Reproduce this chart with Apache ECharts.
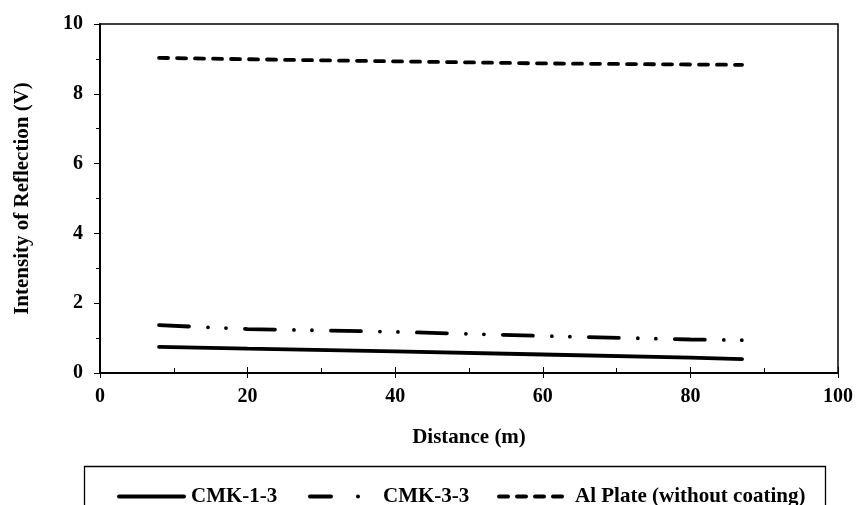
<!DOCTYPE html>
<html>
<head>
<meta charset="utf-8">
<script src="https://cdn.jsdelivr.net/npm/echarts@6/dist/echarts.min.js"></script>
<style>html,body{margin:0;padding:0;background:#fff}#c{width:858px;height:505px}</style>
</head>
<body>
<div id="c"></div>
<script>
var distances = [8, 20, 40, 60, 80, 87];
var cmk13 = [0.75, 0.70, 0.62, 0.53, 0.44, 0.40];
var cmk33 = [1.37, 1.26, 1.18, 1.06, 0.96, 0.94];
var alPlate = [9.03, 8.99, 8.93, 8.87, 8.84, 8.83];
var seriesNames = ['CMK-1-3', 'CMK-3-3', 'Al Plate (without coating)'];
var xTitle = 'Distance (m)';
var yTitle = 'Intensity of Reflection (V)';

function pairs(ys) { return distances.map(function (d, i) { return [d, ys[i]]; }); }

var F = 'Liberation Serif, Times New Roman, serif';
var chart = echarts.init(document.getElementById('c'), null, {renderer: 'canvas'});
var lw = 3.8;
var legendText = {fontFamily: F, fontWeight: 'bold', fontSize: 21, color: '#000'};

function rdash(x0, x1) {
  return 'M' + (x0 + 2) + ',0 L' + (x1 - 2) + ',0 A2,2 0 0 1 ' + (x1 - 2) + ',4 L' + (x0 + 2) + ',4 A2,2 0 0 1 ' + (x0 + 2) + ',0 Z ';
}
var iconSolid = 'path://' + rdash(0, 69) + 'M69,0 L69,4';
var iconDashDot = 'path://' + rdash(0, 25) + rdash(48, 52) + 'M70,0 L70,4';
var iconDash = 'path://' + rdash(0, 13) + rdash(18, 31) + rdash(36, 49) + rdash(54, 67) + 'M73,0 L73,4';

function legendOne(name, left, width, icon) {
  return {
    left: left, top: 481, itemWidth: width, itemHeight: 4, symbolKeepAspect: false,
    textStyle: legendText, selectedMode: false,
    data: [{name: name, icon: icon, itemStyle: {color: '#000'}}]
  };
}

chart.setOption({
  animation: false,
  backgroundColor: '#fff',
  grid: {left: 100, right: 20, top: 24, bottom: 132, show: true, borderColor: '#000', borderWidth: 1.5, backgroundColor: 'transparent'},
  xAxis: [{
    type: 'value', min: 0, max: 100, interval: 20, position: 'bottom',
    name: xTitle, nameLocation: 'middle', nameGap: 54,
    nameTextStyle: {fontFamily: F, fontWeight: 'bold', fontSize: 21, color: '#000'},
    axisLine: {lineStyle: {color: '#000', width: 2}},
    axisTick: {show: true, inside: false, length: 5, lineStyle: {color: '#000', width: 1}},
    axisLabel: {fontFamily: F, fontWeight: 'bold', fontSize: 20, color: '#000', margin: 14},
    splitLine: {show: false}
  }, {
    type: 'value', min: 0, max: 100, interval: 20, position: 'bottom',
    axisLine: {show: false},
    axisTick: {show: true, inside: true, length: 6, lineStyle: {color: '#000', width: 1}},
    minorTick: {show: true, splitNumber: 2, length: 5, lineStyle: {color: '#000', width: 1}},
    axisLabel: {show: false},
    splitLine: {show: false}
  }],
  yAxis: {
    type: 'value', min: 0, max: 10, interval: 2,
    name: yTitle, nameLocation: 'middle', nameGap: 67, nameRotate: 90,
    nameTextStyle: {fontFamily: F, fontWeight: 'bold', fontSize: 21, color: '#000'},
    axisLine: {show: true, lineStyle: {color: '#000', width: 2}},
    axisTick: {show: true, inside: false, length: 6, lineStyle: {color: '#000', width: 1}},
    minorTick: {show: true, splitNumber: 2, length: 4, lineStyle: {color: '#000', width: 1}},
    axisLabel: {fontFamily: F, fontWeight: 'bold', fontSize: 20, color: '#000', margin: 17},
    splitLine: {show: false}
  },
  legend: [
    legendOne(seriesNames[0], 112, 69, iconSolid),
    legendOne(seriesNames[1], 303, 70, iconDashDot),
    legendOne(seriesNames[2], 492, 73, iconDash)
  ],
  graphic: [{
    type: 'rect', left: 82, top: 464, shape: {width: 741, height: 60},
    style: {fill: 'none', stroke: '#000', lineWidth: 1.3}, silent: true
  }],
  series: [{
    name: seriesNames[0], type: 'line', data: pairs(cmk13), showSymbol: false, symbol: 'none',
    lineStyle: {color: '#000', width: lw, cap: 'round'}, itemStyle: {color: '#000'}
  }, {
    name: seriesNames[1], type: 'line', data: pairs(cmk33), showSymbol: false, symbol: 'none',
    lineStyle: {color: '#000', width: lw, cap: 'round', type: [30, 19, 0, 18, 0, 19]}, itemStyle: {color: '#000'}
  }, {
    name: seriesNames[2], type: 'line', data: pairs(alPlate), showSymbol: false, symbol: 'none',
    lineStyle: {color: '#000', width: lw, cap: 'round', type: [9, 9]}, itemStyle: {color: '#000'}
  }]
});
</script>
</body>
</html>
